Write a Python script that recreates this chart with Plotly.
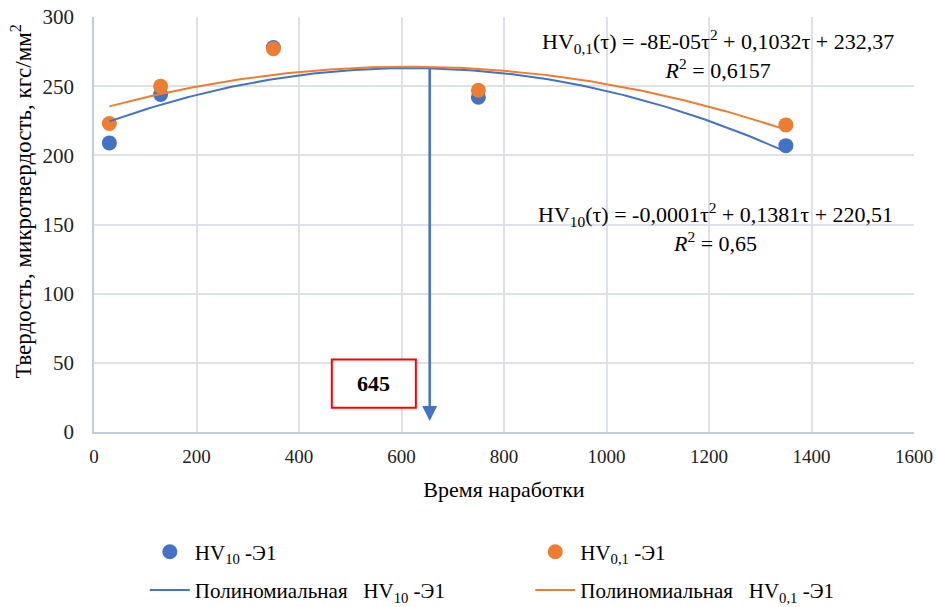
import numpy as np
import plotly.graph_objects as go

# ---- data ----
time_h = [30, 130, 350, 750, 1350]
hv10 = [209, 244, 278, 242, 207]
hv01 = [223, 250, 277, 247, 222]

name_hv10 = "HV<sub>10</sub> -Э1"
name_hv01 = "HV<sub>0,1</sub> -Э1"
name_fit10 = "Полиномиальная   HV<sub>10</sub> -Э1"
name_fit01 = "Полиномиальная   HV<sub>0,1</sub> -Э1"

eq_hv01 = "HV<sub>0,1</sub>(τ) = -8E-05τ<sup>2</sup> + 0,1032τ + 232,37<br><i>R</i><sup>2</sup> = 0,6157"
eq_hv10 = "HV<sub>10</sub>(τ) = -0,0001τ<sup>2</sup> + 0,1381τ + 220,51<br><i>R</i><sup>2</sup> = 0,65"

peak_label = "645"
arrow_x = 655
arrow_top = 264
arrow_bottom = 8

x_title = "Время наработки"
y_title = "Твердость, микротвердость, кгс/мм<sup>2</sup>"

BLUE = "#4472C4"
ORANGE = "#ED7D31"
FONT = "'Liberation Serif', 'Times New Roman', 'DejaVu Serif', serif"

# ---- trendlines (2nd order polynomial fit) ----
xs = np.linspace(min(time_h), max(time_h), 200)
c10 = np.polyfit(time_h, hv10, 2)
c01 = np.polyfit(time_h, hv01, 2)

fig = go.Figure()
fig.add_trace(go.Scatter(x=time_h, y=hv10, mode="markers", name=name_hv10,
                         legend="legend", legendgroup="a",
                         marker=dict(color=BLUE, size=15)))
fig.add_trace(go.Scatter(x=time_h, y=hv01, mode="markers", name=name_hv01,
                         legend="legend2", legendgroup="c",
                         marker=dict(color=ORANGE, size=15)))
fig.add_trace(go.Scatter(x=xs, y=np.polyval(c10, xs), mode="lines", name=name_fit10,
                         legend="legend", legendgroup="b",
                         line=dict(color=BLUE, width=2)))
fig.add_trace(go.Scatter(x=xs, y=np.polyval(c01, xs), mode="lines", name=name_fit01,
                         legend="legend2", legendgroup="d",
                         line=dict(color=ORANGE, width=2)))

# arrow from the curve top down to the axis
fig.add_annotation(x=arrow_x, y=arrow_bottom, ax=arrow_x, ay=arrow_top,
                   xref="x", yref="y", axref="x", ayref="y",
                   showarrow=True, arrowhead=2, arrowsize=1.2, arrowwidth=2.5,
                   arrowcolor=BLUE, text="")

# red box with the value
fig.add_shape(type="rect", x0=464, x1=628, y0=17.5, y1=52.5, xref="x", yref="y",
              line=dict(color="#FF0000", width=2), fillcolor="white", layer="above")
fig.add_annotation(x=546, y=35, xref="x", yref="y", text="<b>" + peak_label + "</b>",
                   showarrow=False, font=dict(family=FONT, size=22, color="black"))

# equations
fig.add_annotation(x=1218, y=295, xref="x", yref="y", text=eq_hv01, showarrow=False,
                   align="center", yanchor="top",
                   font=dict(family=FONT, size=22, color="black"))
fig.add_annotation(x=1212, y=170, xref="x", yref="y", text=eq_hv10, showarrow=False,
                   align="center", yanchor="top",
                   font=dict(family=FONT, size=22, color="black"))

# y axis title
fig.add_annotation(x=-0.088, y=0.555, xref="paper", yref="paper", text=y_title,
                   textangle=-90, showarrow=False, xanchor="center", yanchor="middle",
                   font=dict(family=FONT, size=23, color="black"))

legend_common = dict(orientation="v", yanchor="top", y=-0.24, xanchor="left",
                     tracegroupgap=8, itemwidth=40, bgcolor="rgba(0,0,0,0)",
                     font=dict(family=FONT, size=21, color="black"))

grid = "#DCE1EA"
axline = "#C3CCDB"
fig.update_layout(
    width=936, height=607,
    margin=dict(l=94, r=22, t=17, b=175, autoexpand=False),
    paper_bgcolor="white", plot_bgcolor="white",
    font=dict(family=FONT, size=18, color="#222222"),
    showlegend=True,
    legend=dict(x=0.062, **legend_common),
    legend2=dict(x=0.532, **legend_common),
    xaxis=dict(range=[0, 1600], dtick=200, showgrid=True, gridcolor=grid, gridwidth=1.5,
               zeroline=False, showline=True, linecolor=axline, linewidth=1.5,
               ticks="", ticklabelstandoff=6,
               tickfont=dict(family=FONT, size=19, color="#222222"),
               title=dict(text=x_title, standoff=16,
                          font=dict(family=FONT, size=22, color="black"))),
    yaxis=dict(range=[0, 300], dtick=50, showgrid=True, gridcolor=grid, gridwidth=1.5,
               zeroline=False, showline=True, linecolor=axline, linewidth=1.5,
               ticks="", ticklabelstandoff=14,
               tickfont=dict(family=FONT, size=21, color="#222222")),
)

fig.write_html("out.html")
